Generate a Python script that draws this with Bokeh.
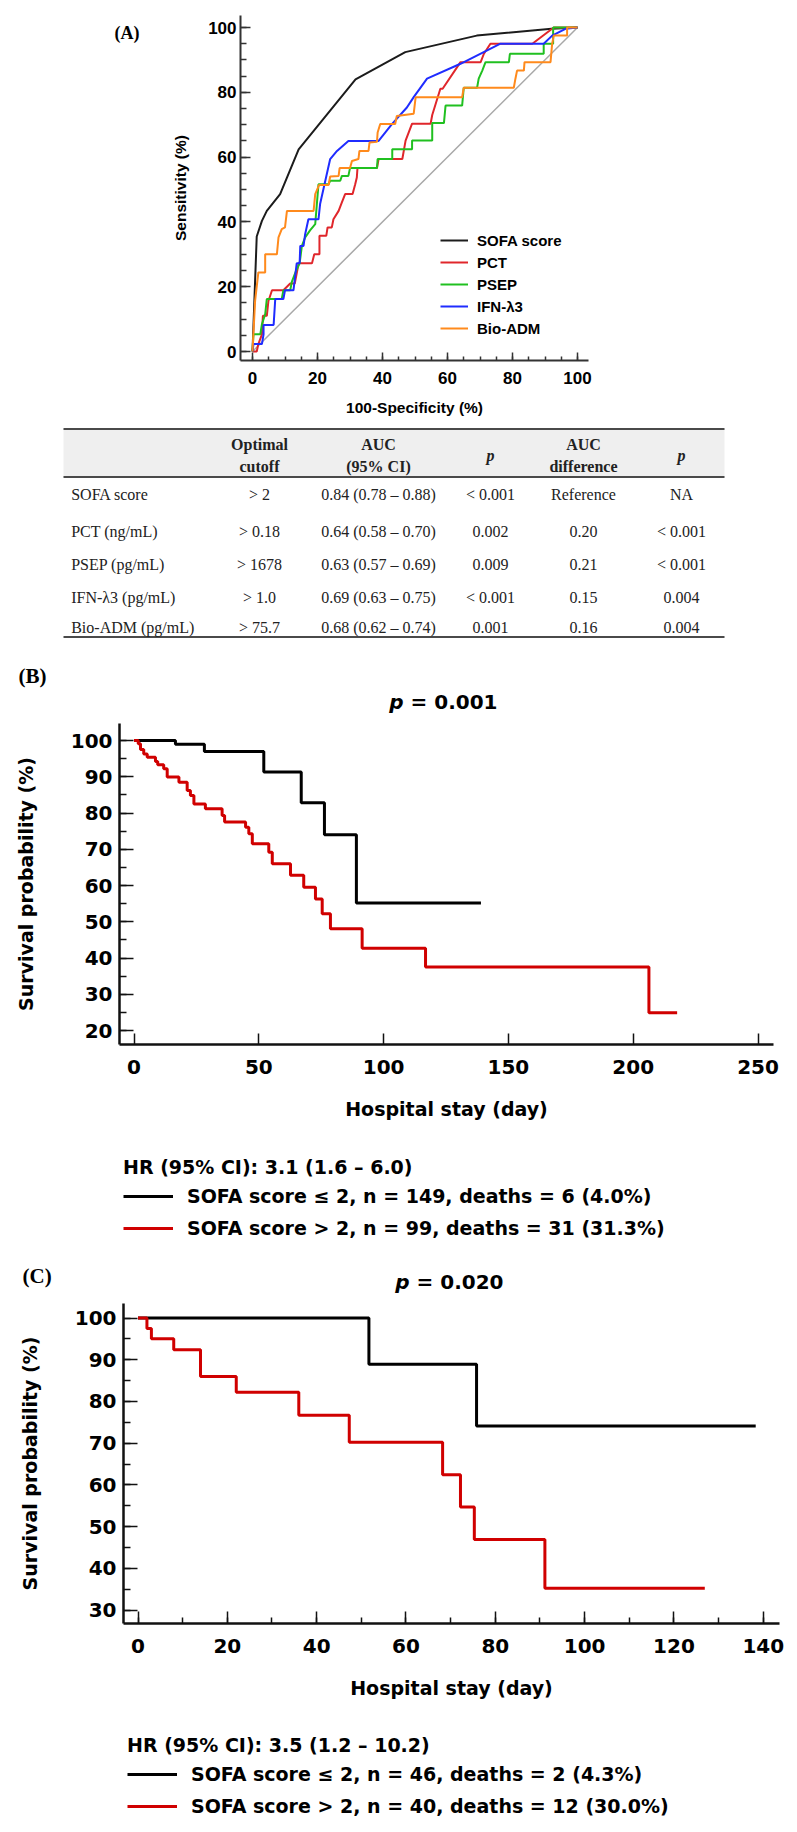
from bokeh.plotting import figure
from bokeh.layouts import column
from bokeh.models import Range1d, FixedTicker, Legend, LegendItem, Label
from bokeh.core.properties import value
from bokeh.embed import file_html
from bokeh.resources import INLINE

# ---------------------------------------------------------------- data
# ROC curves: x = 100 - specificity (%), y = sensitivity (%)
sofa_x = [0, 1.3, 2.9, 4.4, 8.5, 14.2, 31.7, 47.0, 69.0, 92.0, 100]
sofa_y = [0, 35.5, 40.3, 43.4, 48.6, 62.4, 84.0, 92.4, 97.5, 99.6, 100]

pct_x = [0, 1.3, 1.8, 2.9, 3.2, 4.4, 4.9, 6.0, 9.5, 11.6, 13.0, 14.2, 18.3, 19.0, 20.6, 20.6,
         22.7, 23.1, 24.4, 24.9, 26.5, 27.5, 28.5, 30.8, 31.6, 32.1, 32.3, 38.3, 38.8, 46.1,
         47.1, 49.1, 54.8, 55.3, 57.8, 58.5, 64.0, 70.2, 71.2, 73.2, 86.1, 92.7, 100]
pct_y = [0, 0, 2.3, 5.3, 11.0, 11.0, 15.6, 18.9, 18.9, 21.0, 21.0, 27.2, 27.2, 30.0, 30.0, 35.7,
         35.7, 38.3, 38.3, 40.8, 43.4, 46.0, 48.6, 48.6, 51.6, 53.7, 56.6, 56.6, 59.4, 59.4,
         65.1, 70.3, 70.3, 73.0, 81.1, 81.1, 89.3, 89.3, 91.9, 95.0, 95.0, 100, 100]

psep_x = [0, 0.3, 2.4, 2.9, 3.9, 4.4, 9.0, 9.5, 11.6, 12.1, 13.4, 14.5, 15.2, 16.2, 17.7, 19.3,
          19.8, 20.3, 23.4, 23.9, 27.0, 27.5, 29.5, 30.0, 38.3, 38.5, 43.0, 43.0, 49.1, 49.1,
          55.3, 55.3, 58.9, 59.4, 64.5, 65.0, 69.1, 69.6, 70.7, 71.7, 78.9, 79.2, 89.6, 89.6,
          92.5, 92.5, 100]
psep_y = [0, 5.3, 5.3, 8.4, 11.5, 16.2, 16.2, 18.9, 18.9, 21.5, 24.9, 27.2, 32.6, 35.2, 37.4, 39.3,
          45.5, 51.6, 51.6, 52.7, 52.7, 54.2, 54.2, 56.6, 56.6, 59.4, 59.4, 62.4, 62.4, 65.1,
          65.1, 70.5, 70.5, 75.9, 75.9, 81.4, 81.4, 84.2, 86.7, 89.3, 89.3, 91.9, 91.9, 95.0,
          95.0, 100, 100]

ifn_x = [0, 0.3, 2.9, 3.4, 3.4, 6.5, 7.0, 9.5, 10.0, 12.6, 13.6, 14.5, 14.7, 15.7, 16.2, 17.2,
         20.3, 20.8, 22.4, 23.9, 26.0, 29.5, 38.8, 42.9, 47.5, 49.6, 53.7, 64.0, 76.3, 89.6,
         92.2, 96.3, 100]
ifn_y = [0, 2.3, 2.3, 5.3, 8.2, 8.2, 16.2, 16.2, 18.9, 18.9, 27.2, 27.2, 32.6, 32.6, 36.2, 40.8,
         40.8, 45.5, 52.7, 59.4, 61.9, 65.0, 65.0, 70.2, 75.3, 78.5, 84.2, 88.8, 95.0, 95.0,
         97.5, 99.6, 100]

adm_x = [0, 0.8, 1.8, 3.9, 3.9, 7.5, 8.0, 9.0, 10.0, 10.6, 18.8, 19.3, 20.5, 23.4, 23.9, 26.5,
         26.8, 30.0, 30.6, 32.6, 32.9, 35.7, 36.0, 38.3, 38.5, 39.3, 43.9, 44.4, 49.6, 50.2,
         64.5, 65.0, 80.4, 80.9, 81.4, 83.5, 83.7, 91.7, 92.2, 92.7, 96.8, 96.8, 100]
adm_y = [0, 15.6, 24.4, 24.4, 30.0, 30.0, 35.2, 37.8, 38.3, 43.4, 43.4, 48.6, 51.4, 51.4, 54.0, 54.2,
         56.6, 56.6, 58.8, 59.4, 61.9, 61.9, 64.5, 64.7, 67.6, 70.2, 70.2, 72.7, 73.4, 78.5,
         78.5, 81.4, 81.4, 84.2, 86.7, 86.7, 89.3, 89.3, 95.0, 97.5, 97.5, 100, 100]

chance_x = [0, 100]
chance_y = [0, 100]

roc_names = ["SOFA score", "PCT", "PSEP", "IFN-λ3", "Bio-ADM"]
roc_ticks = [0, 20, 40, 60, 80, 100]
roc_minor = list(range(0, 101, 5))

# Table of ROC statistics
tbl_marker = ["SOFA score", "PCT (ng/mL)", "PSEP (pg/mL)", "IFN-λ3 (pg/mL)", "Bio-ADM (pg/mL)"]
tbl_cutoff = ["> 2", "> 0.18", "> 1678", "> 1.0", "> 75.7"]
tbl_auc = ["0.84 (0.78 – 0.88)", "0.64 (0.58 – 0.70)", "0.63 (0.57 – 0.69)",
           "0.69 (0.63 – 0.75)", "0.68 (0.62 – 0.74)"]
tbl_auc_p = ["< 0.001", "0.002", "0.009", "< 0.001", "0.001"]
tbl_diff = ["Reference", "0.20", "0.21", "0.15", "0.16"]
tbl_diff_p = ["NA", "< 0.001", "< 0.001", "0.004", "0.004"]
tbl_head1 = ["Optimal", "AUC", "AUC"]
tbl_head2 = ["cutoff", "(95% CI)", "difference"]

# Kaplan-Meier, all patients (days, survival %)
b_low_t = [0, 16.6, 28.2, 52.0, 67.0, 76.3, 89.1, 139.0]
b_low_s = [100, 99.0, 97.0, 91.3, 82.8, 74.0, 55.2, 55.2]
b_high_t = [0, 1.7, 2.6, 3.9, 5.3, 8.6, 9.5, 11.9, 13.3, 18.0, 21.3, 22.6, 24.0, 28.6, 35.3,
            36.3, 44.7, 46.0, 47.4, 54.0, 55.4, 62.7, 68.0, 72.7, 75.4, 78.7, 91.4, 116.8,
            206.3, 217.6]
b_high_s = [100, 99.1, 97.5, 96.3, 95.4, 94.2, 93.3, 92.2, 89.9, 88.5, 86.2, 84.8, 82.5, 81.2,
            79.3, 77.5, 76.1, 74.3, 71.5, 69.2, 66.0, 62.8, 59.5, 56.3, 52.2, 48.1, 42.7, 37.5,
            24.9, 24.9]
b_xticks = [0, 50, 100, 150, 200, 250]
b_yticks = [20, 30, 40, 50, 60, 70, 80, 90, 100]
b_yminor = list(range(20, 101, 5))
b_p = "0.001"
b_hr = "HR (95% CI): 3.1 (1.6 – 6.0)"
b_labels = ["SOFA score ≤ 2, n = 149, deaths = 6 (4.0%)",
            "SOFA score > 2, n = 99, deaths = 31 (31.3%)"]

# Kaplan-Meier, subgroup
c_low_t = [0, 51.7, 75.8, 138.3]
c_low_s = [100, 88.9, 74.1, 74.1]
c_high_t = [0, 2.0, 3.0, 8.0, 14.0, 22.0, 36.0, 47.3, 68.2, 72.2, 75.3, 91.1, 126.9]
c_high_s = [100, 97.5, 95.0, 92.4, 86.0, 82.2, 76.7, 70.2, 62.4, 54.7, 46.9, 35.2, 35.2]
c_xticks = [0, 20, 40, 60, 80, 100, 120, 140]
c_xminor = list(range(0, 141, 10))
c_yticks = [30, 40, 50, 60, 70, 80, 90, 100]
c_yminor = list(range(30, 101, 5))
c_p = "0.020"
c_hr = "HR (95% CI): 3.5 (1.2 – 10.2)"
c_labels = ["SOFA score ≤ 2, n = 46, deaths = 2 (4.3%)",
            "SOFA score > 2, n = 40, deaths = 12 (30.0%)"]

# ---------------------------------------------------------------- style
W = 797
SANS = "Liberation Sans"
KMF = "DejaVu Sans"
SERIF = "Liberation Serif"
roc_colors = ["#1c1c1c", "#e0262b", "#20c020", "#1f2cff", "#ff8a1c"]
KM_LOW = "#000000"
KM_HIGH = "#d00000"


def calib(p0, v0, p1, v1):
    """Return a pixel -> value mapping from two reference points."""
    k = (v1 - v0) / (p1 - p0)
    return lambda px: v0 + (px - p0) * k


def canvas_fig(height, fx, fy):
    """Figure whose frame fills the whole canvas; fx/fy map local pixels to data."""
    p = figure(width=W, height=height,
               x_range=Range1d(fx(0), fx(W)), y_range=Range1d(fy(height), fy(0)),
               output_backend="svg", toolbar_location=None, min_border=0)
    p.outline_line_color = None
    p.grid.visible = False
    p.background_fill_color = "white"
    p.border_fill_color = "white"
    return p


def style_axis(ax, font, tick_size, title_size, line_w, tick_in, minor_in, color):
    ax.axis_line_width = line_w
    ax.axis_line_color = color
    ax.major_tick_in = tick_in
    ax.major_tick_out = 0
    ax.minor_tick_in = minor_in
    ax.minor_tick_out = 0
    ax.major_tick_line_color = color
    ax.minor_tick_line_color = color
    ax.major_tick_line_width = 1.5
    ax.minor_tick_line_width = 1.5
    ax.major_label_text_font = font
    ax.major_label_text_font_size = tick_size
    ax.major_label_text_font_style = "bold"
    ax.major_label_text_color = "black"
    ax.axis_label_text_font = font
    ax.axis_label_text_font_size = title_size
    ax.axis_label_text_font_style = "bold"
    ax.axis_label_text_color = "black"


def place_axes(p, fx, fy, left_px, right_px, top_px, bottom_px):
    """Pin the x axis at the bottom edge and the y axis at the left edge of the plot box."""
    x0, x1 = fx(left_px), fx(right_px)
    y0, y1 = fy(bottom_px), fy(top_px)
    p.xaxis.fixed_location = y0
    p.yaxis.fixed_location = x0
    p.xaxis.bounds = (x0, x1)
    p.yaxis.bounds = (y0, y1)


def text_label(x, y, text, font, size, style="bold", align="left"):
    return Label(x=x, y=y, x_units="screen", y_units="screen", text=text,
                 text_font=font, text_font_style=style, text_font_size=size,
                 text_color="black", text_baseline="middle", text_align=align)


# ---------------------------------------------------------------- (A) ROC
HA = 425
ax_ = calib(252, 0, 577, 100)
ay_ = calib(351, 0, 27, 100)
roc = canvas_fig(HA, ax_, ay_)
roc.line(chance_x, chance_y, line_color="#a8a8a8", line_width=1.5)
roc_rs = []
for xs, ys, col in zip([sofa_x, pct_x, psep_x, ifn_x, adm_x],
                       [sofa_y, pct_y, psep_y, ifn_y, adm_y], roc_colors):
    roc_rs.append(roc.line(xs, ys, line_color=col, line_width=2))

place_axes(roc, ax_, ay_, 240, 588, 15, 360)
roc.xaxis.ticker = FixedTicker(ticks=roc_ticks, minor_ticks=roc_minor)
roc.yaxis.ticker = FixedTicker(ticks=roc_ticks, minor_ticks=roc_minor)
style_axis(roc.xaxis[0], SANS, "17px", "15.5px", 2, 8, 4, "#333333")
style_axis(roc.yaxis[0], SANS, "17px", "15.5px", 2, 10, 6, "#333333")
roc.xaxis.axis_label = "100-Specificity (%)"
roc.yaxis.axis_label = "Sensitivity (%)"
roc.xaxis.major_label_standoff = 11
roc.xaxis.axis_label_standoff = 12
roc.yaxis.major_label_standoff = 4
roc.yaxis.axis_label_standoff = 16

roc_leg = Legend(items=[LegendItem(label=n, renderers=[r]) for n, r in zip(roc_names, roc_rs)],
                 location=(440, HA - 338), glyph_width=28, glyph_height=20, label_height=20,
                 spacing=2, padding=0, margin=0, label_standoff=9,
                 border_line_color=None, background_fill_alpha=0,
                 label_text_font=SANS, label_text_font_size="15px",
                 label_text_font_style="bold", label_text_color="black")
roc.add_layout(roc_leg)
roc.add_layout(text_label(114, HA - 32, "(A)", SERIF, "18px"))

# ---------------------------------------------------------------- table
TH = 225
tab = figure(width=W, height=TH, x_range=Range1d(0, W), y_range=Range1d(TH, 0),
             output_backend="svg", toolbar_location=None, min_border=0,
             x_axis_type=None, y_axis_type=None)
tab.outline_line_color = None
tab.grid.visible = False
t_left, t_right = 63, 724
t_top, t_head, t_bottom = 3.5, 51.5, 211.5
col_x = [70.7, 259, 378, 490, 583, 681]
row_y = [69, 106, 139, 172, 202]
head_y = [18.5, 41]

tab.quad(left=[t_left], right=[t_right], top=[t_top], bottom=[t_head],
         fill_color="#efefef", line_color=None)
tab.segment(x0=[t_left] * 3, x1=[t_right] * 3, y0=[t_top, t_head, t_bottom],
            y1=[t_top, t_head, t_bottom], line_color="#4a4a4a", line_width=2)

tab.text(x=[col_x[1], col_x[2], col_x[4]], y=[head_y[0]] * 3, text=tbl_head1,
         text_font=value(SERIF), text_font_style="bold", text_font_size="16px",
         text_align="center", text_baseline="middle", text_color="#222222")
tab.text(x=[col_x[1], col_x[2], col_x[4]], y=[head_y[1]] * 3, text=tbl_head2,
         text_font=value(SERIF), text_font_style="bold", text_font_size="16px",
         text_align="center", text_baseline="middle", text_color="#222222")
tab.text(x=[col_x[3], col_x[5]], y=[30, 30], text=["p", "p"],
         text_font=value(SERIF), text_font_style="bold italic", text_font_size="16px",
         text_align="center", text_baseline="middle", text_color="#222222")

tab.text(x=[col_x[0]] * 5, y=row_y, text=tbl_marker, text_font=value(SERIF),
         text_font_size="16px", text_align="left", text_baseline="middle",
         text_color="#222222")
for cx, vals in zip(col_x[1:], [tbl_cutoff, tbl_auc, tbl_auc_p, tbl_diff, tbl_diff_p]):
    tab.text(x=[cx] * 5, y=row_y, text=vals, text_font=value(SERIF),
             text_font_size="16px", text_align="center", text_baseline="middle",
             text_color="#222222")


# ---------------------------------------------------------------- KM panels
def km_panel(height, fx, fy, box, xticks, xminor, yticks, yminor, curves, labels,
             hr_text, p_text, p_pos, tag_pos, tag, leg_pos, x_tick_len, x_minor_len):
    p = canvas_fig(height, fx, fy)
    rs = []
    for (t, s), col in zip(curves, [KM_LOW, KM_HIGH]):
        rs.append(p.step(t, s, mode="after", line_color=col, line_width=3))
    place_axes(p, fx, fy, *box)
    p.xaxis.ticker = FixedTicker(ticks=xticks, minor_ticks=xminor)
    p.yaxis.ticker = FixedTicker(ticks=yticks, minor_ticks=yminor)
    style_axis(p.xaxis[0], KMF, "20px", "19px", 2.5, x_tick_len, x_minor_len, "#111111")
    style_axis(p.yaxis[0], KMF, "20px", "19px", 2.5, 14, 7, "#111111")
    p.xaxis.axis_label = "Hospital stay (day)"
    p.yaxis.axis_label = "Survival probability (%)"
    p.xaxis.major_label_standoff = 15
    p.xaxis.axis_label_standoff = 21
    p.yaxis.major_label_standoff = 7
    p.yaxis.axis_label_standoff = 31

    leg = Legend(items=[LegendItem(label=lab, renderers=[r]) for lab, r in zip(labels, rs)],
                 title=hr_text, location=leg_pos, glyph_width=50, glyph_height=28,
                 label_height=28, spacing=4, padding=0, margin=0, label_standoff=14,
                 title_standoff=4, border_line_color=None, background_fill_alpha=0,
                 label_text_font=KMF, label_text_font_size="19px",
                 label_text_font_style="bold", label_text_color="black",
                 title_text_font=KMF, title_text_font_size="19px",
                 title_text_font_style="bold", title_text_color="black")
    p.add_layout(leg)

    px, py = p_pos
    p.add_layout(text_label(px - 3, py, "p", KMF, "20px", style="bold italic", align="right"))
    p.add_layout(text_label(px + 4, py, "= " + p_text, KMF, "20px"))
    tx, ty = tag_pos
    p.add_layout(text_label(tx, ty, tag, SERIF, "21px"))
    return p


# panel B occupies page rows 650..1255; local pixel = page pixel - 650
HB, TOPB = 605, 650
bx = calib(133.5, 0, 757.5, 250)
by = calib(740 - TOPB, 100, 1030 - TOPB, 20)
km_b = km_panel(HB, bx, by, (119, 773, 723 - TOPB, 1044 - TOPB),
                b_xticks, [], b_yticks, b_yminor,
                [(b_low_t, b_low_s), (b_high_t, b_high_s)], b_labels, b_hr, b_p,
                (406, TOPB + HB - 701.7), (18, TOPB + HB - 675), "(B)",
                (123, TOPB + HB - 1242), 11, 6)

# panel C occupies page rows 1255..1832
HC, TOPC = 577, 1255
cx_ = calib(137.5, 0, 762.8, 140)
cy_ = calib(1317.5 - TOPC, 100, 1609.5 - TOPC, 30)
km_c = km_panel(HC, cx_, cy_, (123, 779, 1303 - TOPC, 1623 - TOPC),
                c_xticks, c_xminor, c_yticks, c_yminor,
                [(c_low_t, c_low_s), (c_high_t, c_high_s)], c_labels, c_hr, c_p,
                (412, TOPC + HC - 1281.7), (22, TOPC + HC - 1275), "(C)",
                (127, TOPC + HC - 1820), 12, 6)

page = column(roc, tab, km_b, km_c, spacing=0)
open("out.html", "w").write(file_html(page, INLINE))
